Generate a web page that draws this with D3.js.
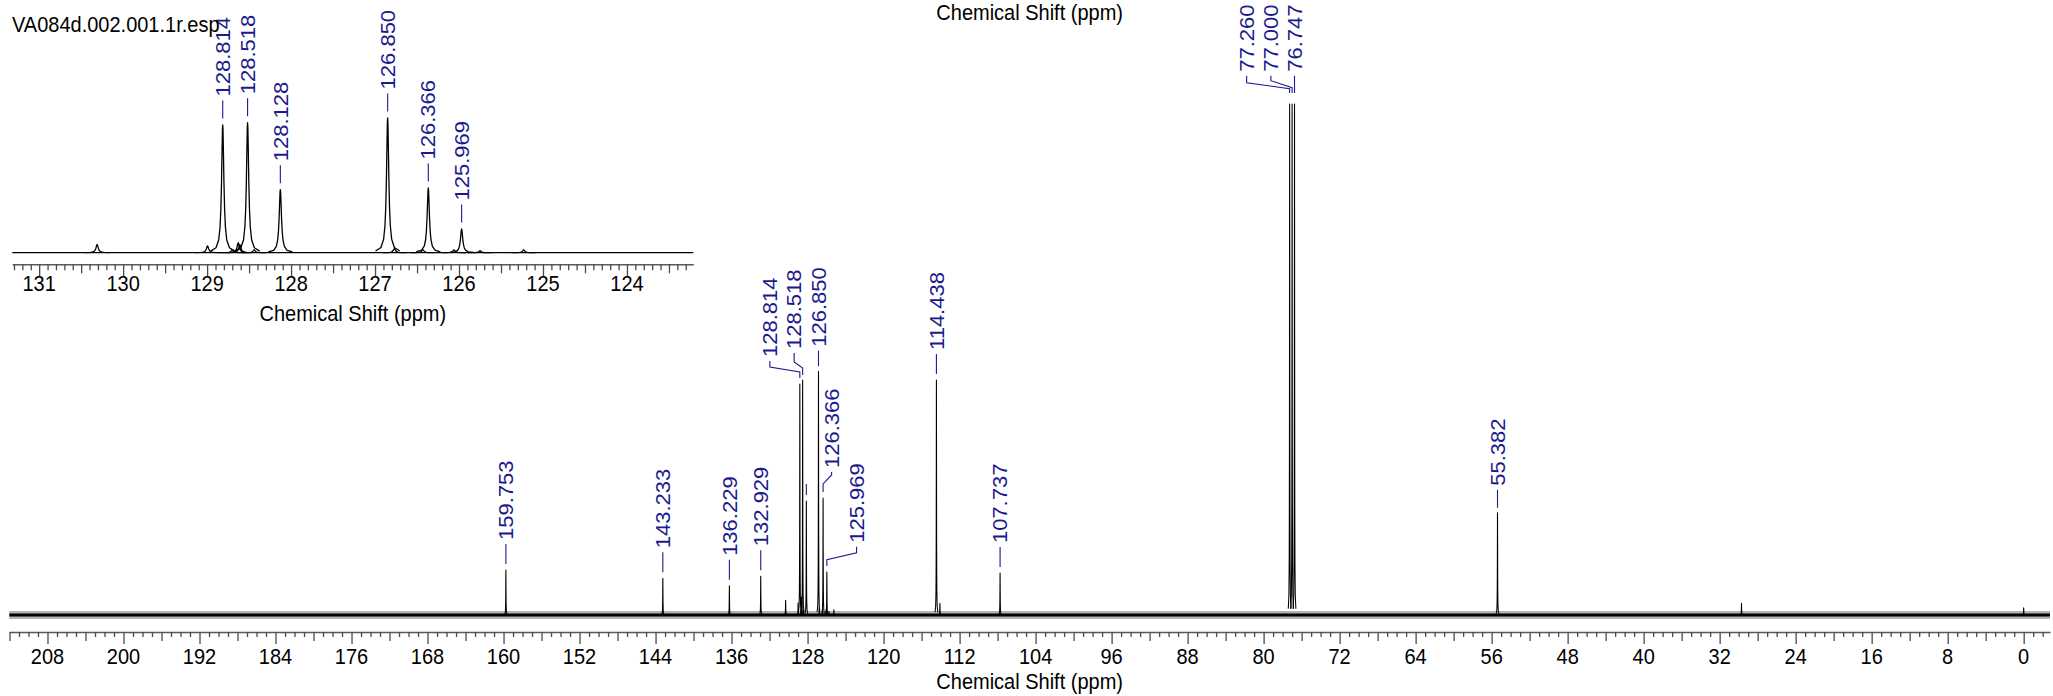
<!DOCTYPE html>
<html><head><meta charset="utf-8">
<script src="https://cdn.jsdelivr.net/npm/d3@7"></script>
<style>
body{margin:0;background:#fff;}
svg{display:block;}
text{font-family:"Liberation Sans", Arial, sans-serif;}
</style>
</head><body>
<svg id="chart" width="2053" height="696"></svg>
<script>
// ---------------- DATA ----------------
const title = "VA084d.002.001.1r.esp";
const axisTitle = "Chemical Shift (ppm)";

// peak positions (ppm) and relative intensities (CDCl3 triplet = 100)
const peakPpm = [159.753, 143.233, 136.229, 132.929, 130.31, 128.995, 128.814, 128.70, 128.63, 128.61, 128.518, 128.44,
                 128.128, 126.850, 126.77, 126.43, 126.366, 126.06, 125.969, 125.75, 125.23,
                 114.438, 114.07, 107.737, 77.260, 77.000, 76.747, 55.382, 29.70, 0.00];
const peakIntensity = [8.8, 7.2, 5.7, 7.6, 2.9, 2.4, 45.2, 1.0, 3.5, 2.8, 46.0, 1.0,
                       22.3, 47.7, 1.4, 1.0, 22.9, 1.0, 8.4, 0.7, 1.0,
                       46.0, 2.3, 8.2, 100, 100, 100, 20.0, 2.3, 1.4];

const mainLabelPpm = [159.753, 143.233, 136.229, 132.929, 128.814, 128.518, 128.128, 126.850, 126.366, 125.969,
                      114.438, 107.737, 77.260, 77.000, 76.747, 55.382];
const insetLabelPpm = [128.814, 128.518, 128.128, 126.850, 126.366, 125.969];

const mainMajorTicks = [208, 200, 192, 184, 176, 168, 160, 152, 144, 136, 128, 120, 112, 104, 96, 88, 80, 72, 64, 56, 48, 40, 32, 24, 16, 8, 0];
const insetMajorTicks = [131, 130, 129, 128, 127, 126, 125, 124];

// ---------------- LAYOUT / STYLE ----------------
const labelColor = "#1a1a8e";
const FS = 20;          // font size
const SY = 1.1;         // vertical stretch of the text in the reference
const svg = d3.select("#chart");

const mainX = d3.scaleLinear().domain([212.02, -2.77]).range([9.3, 2050]);
const mainY = d3.scaleLinear().domain([0, 100]).range([615, 104]);
const insetX = d3.scaleLinear().domain([131.32, 123.21]).range([12.3, 693.3]);
const insetY = d3.scaleLinear().domain([0, 100]).range([252.7, -29.9]);

// label placement tweaks (px): dx = text offset from the peak, dy = text bottom relative to peak top
const mainLabelLayout = {
  "128.814": {dx: -30, dy: -27, a: 6, b: 5, gap: 6},
  "128.518": {dx: -8.5, dy: -31, a: 9, b: 6, gap: 5},
  "128.128": {noText: true, top: -17, gap: 6},
  "126.850": {dx: 0, dy: -24.5, gap: 5},
  "126.366": {dx: 8.5, dy: -30, a: 3, b: 9, gap: 6},
  "125.969": {dx: 29.7, dy: -29.3, a: 6, b: 7, gap: 6},
  "77.260": {dx: -43, dy: -32.3, a: 7, b: 6, gap: 11},
  "77.000": {dx: -21.2, dy: -32.3, a: 5, b: 7, gap: 11},
  "76.747": {dx: 0.4, dy: -32.3, gap: 11},
  "55.382": {dx: 0, dy: -27, gap: 5}
};

const shapeT = [-9, -5, -3, -2, -1.4, -0.9, -0.5, -0.2, 0, 0.2, 0.5, 0.9, 1.4, 2, 3, 5, 9];
const gamma = 0.016; // half width (ppm)

function peakPath(x, y, ppm, h) {
  const pts = shapeT.map(t => [ppm + t * gamma, h / (1 + t * t)]);
  return d3.line().x(d => x(d[0])).y(d => y(d[1]))(pts);
}

function heightOf(ppm) {
  const i = peakPpm.indexOf(ppm);
  return i >= 0 ? peakIntensity[i] : 0;
}

function hText(parent, x, y, str, anchor) {
  return parent.append("text")
    .attr("transform", `translate(${x},${y}) scale(1,${SY})`)
    .attr("text-anchor", anchor || "start")
    .attr("font-size", FS).attr("fill", "#000").text(str);
}

// ---------------- AXES ----------------
function drawAxis(x, y0, majors, mediumStep, minorStep, sizes, labelBase, titleY) {
  const dom = x.domain();
  const lo = Math.min(dom[0], dom[1]), hi = Math.max(dom[0], dom[1]);
  const eps = 1e-6;
  const n0 = Math.ceil(lo / minorStep - eps), n1 = Math.floor(hi / minorStep + eps);
  const all = d3.range(n0, n1 + 1).map(k => +(k * minorStep).toFixed(4));
  const isMajor = v => majors.some(m => Math.abs(m - v) < 1e-6);
  const isMed = v => !isMajor(v) && Math.abs(v / mediumStep - Math.round(v / mediumStep)) < 1e-6;
  const minors = all.filter(v => !isMajor(v) && !isMed(v));
  const meds = all.filter(isMed);

  const g = svg.append("g").attr("transform", `translate(0,${y0})`);
  g.append("g").call(d3.axisBottom(x).tickValues(minors).tickSize(sizes[0]).tickFormat("").tickSizeOuter(0));
  const gMed = g.append("g").call(d3.axisBottom(x).tickValues(meds).tickSize(sizes[1]).tickFormat("").tickSizeOuter(0));
  const gMaj = g.append("g").call(d3.axisBottom(x).tickValues(majors).tickSize(sizes[2]).tickFormat("").tickSizeOuter(0));
  gMed.select(".domain").remove();
  gMaj.select(".domain").remove();
  g.selectAll(".domain").attr("stroke", "#5a5a5a").attr("stroke-width", 1.6);
  g.selectAll(".tick line").attr("stroke", "#4a4a4a").attr("stroke-width", 1.3);
  majors.forEach(v => hText(g, x(v), labelBase, d3.format("d")(v), "middle"));
  const r = x.range();
  hText(svg, (r[0] + r[1]) / 2, titleY, axisTitle, "middle");
}

drawAxis(mainX, 632, mainMajorTicks, 4, 1, [5, 9, 12], 31.5, 688.5);
drawAxis(insetX, 264.3, insetMajorTicks, 0.5, 0.1, [6, 9, 12], 27, 320.5);

// title of the hidden upper axis
hText(svg, (mainX.range()[0] + mainX.range()[1]) / 2, 19.5, axisTitle, "middle");

// ---------------- MAIN SPECTRUM ----------------
const mainG = svg.append("g");
const [mx0, mx1] = mainX.range();
mainG.append("line").attr("x1", mx0).attr("x2", mx1).attr("y1", mainY(0)).attr("y2", mainY(0))
     .attr("stroke", "#000").attr("stroke-opacity", 0.3).attr("stroke-width", 8);
mainG.append("line").attr("x1", mx0).attr("x2", mx1).attr("y1", mainY(0)).attr("y2", mainY(0))
     .attr("stroke", "#000").attr("stroke-width", 3);

mainG.selectAll("path.peak").data(peakPpm.map((p, i) => ({p, h: peakIntensity[i]})))
  .join("path").attr("class", "peak")
  .attr("d", d => peakPath(mainX, mainY, d.p, d.h))
  .attr("fill", "none").attr("stroke", "#000").attr("stroke-width", 1.05).attr("stroke-linejoin", "round");

// main labels
const mainLab = svg.append("g");
function vLabel(parent, tx, tb, str) {
  parent.append("text").attr("transform", `translate(${tx},${tb}) scale(1,${SY}) rotate(-90)`)
    .attr("dy", "0.36em").attr("font-size", FS).attr("fill", labelColor).text(str);
}
mainLabelPpm.forEach(p => {
  const key = p.toFixed(3);
  const L = Object.assign({dx: 0, dy: -30, gap: 6}, mainLabelLayout[key] || {});
  const px = mainX(p), top = mainY(heightOf(p));
  if (L.noText) {
    mainLab.append("line").attr("x1", px).attr("x2", px).attr("y1", top + L.top).attr("y2", top - L.gap)
      .attr("stroke", labelColor).attr("stroke-width", 1.1);
    return;
  }
  const tx = px + L.dx, tb = top + L.dy;
  const pts = Math.abs(L.dx) > 1
    ? [[tx, tb + 4], [tx, tb + 4 + L.a], [px, tb + 4 + L.a + L.b], [px, top - L.gap]]
    : [[px, tb + 4], [px, top - L.gap]];
  mainLab.append("path").attr("d", d3.line()(pts)).attr("fill", "none")
    .attr("stroke", labelColor).attr("stroke-width", 1.1);
  vLabel(mainLab, tx, tb, key);
});

// ---------------- INSET ----------------
const insetG = svg.append("g");
const [ix0, ix1] = insetX.range();
insetG.append("line").attr("x1", ix0).attr("x2", ix1).attr("y1", insetY(0)).attr("y2", insetY(0))
      .attr("stroke", "#000").attr("stroke-width", 1.3);
const [iLo, iHi] = [insetX.domain()[1], insetX.domain()[0]];
insetG.selectAll("path.peak").data(peakPpm.map((p, i) => ({p, h: peakIntensity[i]})).filter(d => d.p > iLo && d.p < iHi))
  .join("path").attr("class", "peak")
  .attr("d", d => peakPath(insetX, insetY, d.p, d.h))
  .attr("fill", "none").attr("stroke", "#000").attr("stroke-width", 1.3).attr("stroke-linejoin", "round");

const insetLab = svg.append("g");
insetLabelPpm.forEach(p => {
  const key = p.toFixed(3);
  const px = insetX(p), top = insetY(heightOf(p));
  const tb = top - 28.5;
  insetLab.append("line").attr("x1", px).attr("x2", px).attr("y1", tb + 4).attr("y2", top - 6.5)
    .attr("stroke", labelColor).attr("stroke-width", 1.1);
  vLabel(insetLab, px, tb, key);
});

// title
hText(svg, 12, 32, title);
</script>
</body></html>
